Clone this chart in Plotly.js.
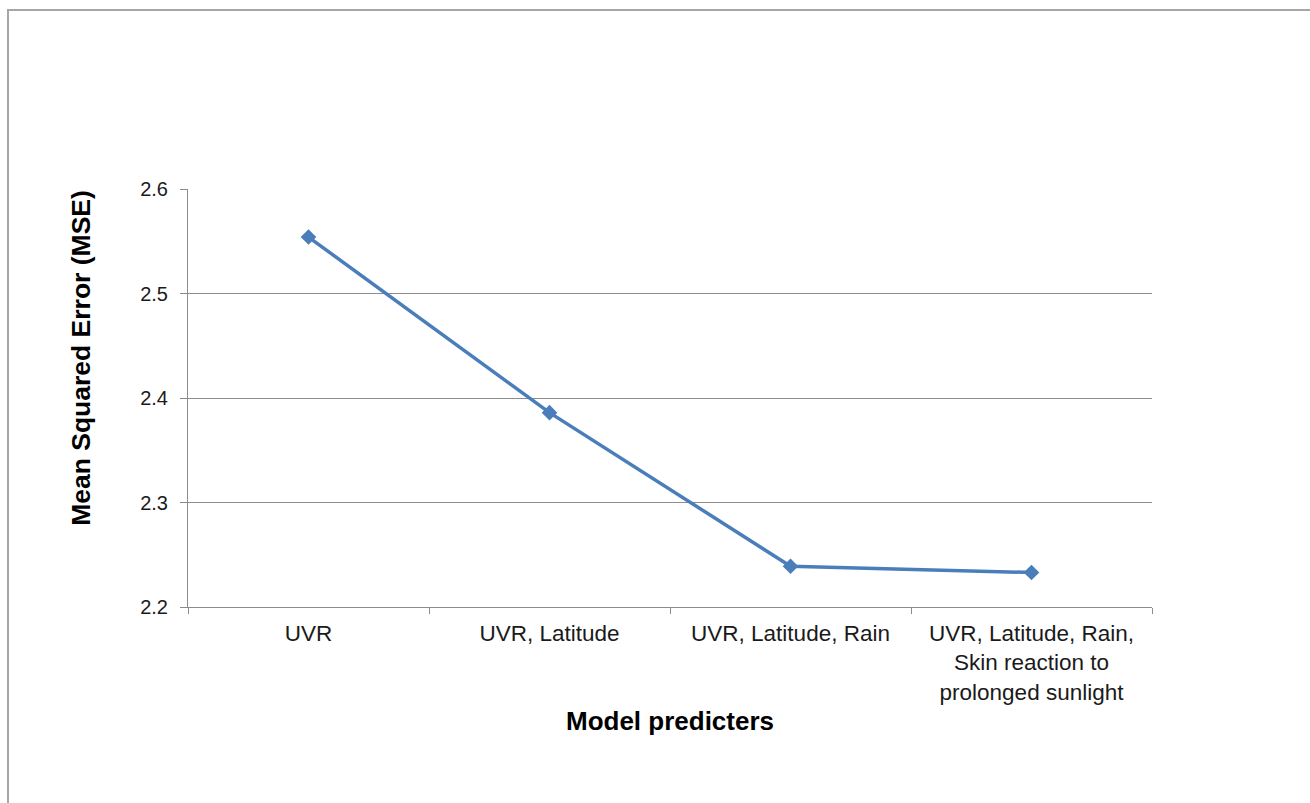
<!DOCTYPE html>
<html>
<head>
<meta charset="utf-8">
<script src="https://cdn.plot.ly/plotly-3.0.1.min.js"></script>
<style>
  html, body { margin: 0; padding: 0; background: #fff; }
  #wrap { position: relative; width: 1310px; height: 803px; overflow: hidden; }
  #frame { position: absolute; left: 7px; top: 9px; right: -10px; bottom: -10px;
           border-left: 2px solid #a6a6a6; border-top: 2px solid #a6a6a6; pointer-events: none; }
  #chart { position: absolute; left: 0; top: 0; width: 1310px; height: 803px; }
</style>
</head>
<body>
<div id="wrap">
  <div id="chart"></div>
  <div id="frame"></div>
</div>
<script>
const categories = [
  "UVR",
  "UVR, Latitude",
  "UVR, Latitude, Rain",
  "UVR, Latitude, Rain,<br>Skin reaction to<br>prolonged sunlight"
];
const mseValues = [2.554, 2.386, 2.239, 2.233];
const yTickValues = [2.2, 2.3, 2.4, 2.5, 2.6];
const yTickLabels = ["2.2", "2.3", "2.4", "2.5", "2.6"];
const xAxisTitle = "Model predicters";
const yAxisTitle = "Mean Squared Error (MSE)";

const blue = "#4A7EBB";
const grey = "#8c8c8c";
const font = "Liberation Sans, Arial, sans-serif";

const trace = {
  type: "scatter",
  mode: "lines+markers",
  x: categories,
  y: mseValues,
  line: { color: blue, width: 3.5 },
  marker: { symbol: "diamond", size: 12, color: blue },
  hoverinfo: "x+y",
  showlegend: false
};

const layout = {
  width: 1310,
  height: 803,
  margin: { l: 188, r: 158, t: 189, b: 196 },
  paper_bgcolor: "#fff",
  plot_bgcolor: "#fff",
  font: { family: font, color: "#000" },
  xaxis: {
    type: "category",
    range: [-0.5, categories.length - 0.5],
    tickson: "boundaries",
    ticks: "outside",
    ticklen: 6,
    tickcolor: grey,
    showline: true,
    linecolor: grey,
    linewidth: 1,
    showgrid: false,
    zeroline: false,
    tickfont: { family: font, size: 22.5, color: "#1a1a1a" },
    ticklabelstandoff: 6,
    title: { text: xAxisTitle, font: { family: font, size: 26, color: "#000", weight: "bold" }, standoff: 8 },
    automargin: false
  },
  yaxis: {
    range: [2.2, 2.6],
    tickvals: yTickValues,
    ticktext: yTickLabels,
    ticks: "outside",
    ticklen: 7,
    tickcolor: grey,
    showline: true,
    linecolor: grey,
    linewidth: 1,
    showgrid: true,
    gridcolor: grey,
    gridwidth: 1,
    zeroline: false,
    tickfont: { family: font, size: 20, color: "#1a1a1a" },
    ticklabelstandoff: 8,
    automargin: false
  },
  annotations: [{
    text: "<b>" + yAxisTitle + "</b>",
    xref: "paper", yref: "paper",
    x: -0.111, y: 0.596,
    xanchor: "center", yanchor: "middle",
    textangle: -90,
    showarrow: false,
    font: { family: font, size: 26.5, color: "#000" }
  }]
};

Plotly.newPlot("chart", [trace], layout, { displayModeBar: false });
</script>
</body>
</html>
